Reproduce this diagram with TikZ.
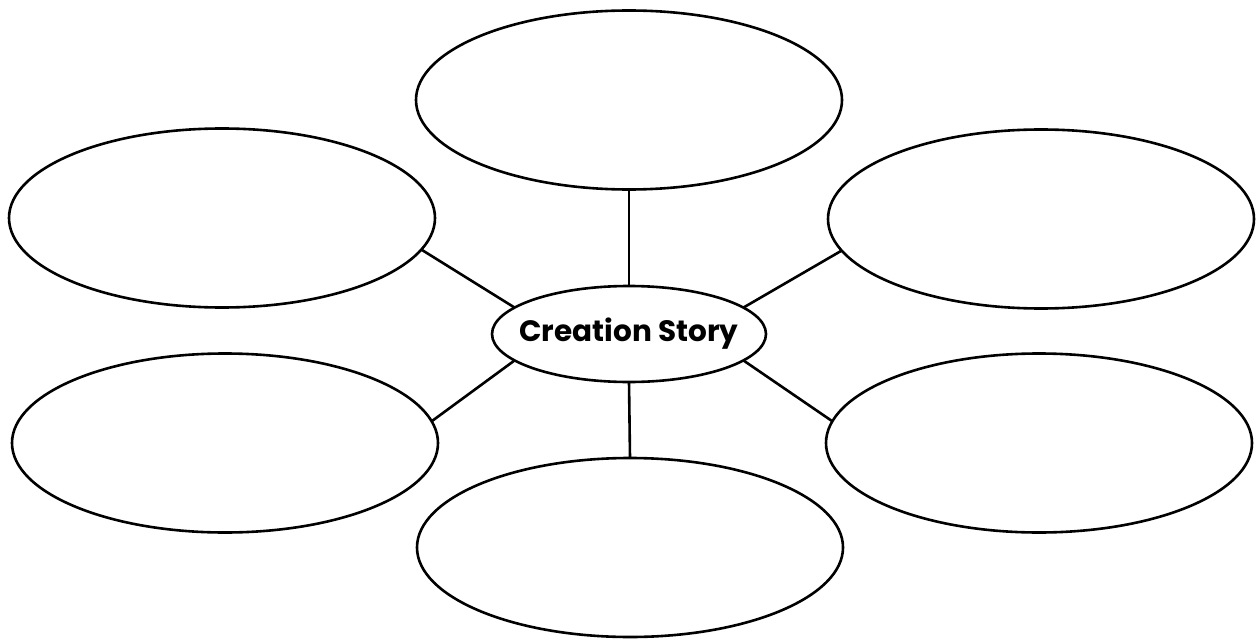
\documentclass[tikz,border=0pt]{standalone}
\usepackage{fontspec}
\setmainfont{Poppins}
\usetikzlibrary{shapes.geometric}
\tikzset{
  bub/.style={ellipse, draw=black, line width=2.6pt, minimum width=426pt, minimum height=179pt, outer sep=0pt, inner sep=0pt},
  hub/.style={ellipse, draw=black, line width=2.6pt, minimum width=274pt, minimum height=96pt, outer sep=0pt, inner sep=0pt, font=\bfseries\fontsize{29.5}{32}\selectfont},
  link/.style={line width=2.6pt}
}
\begin{document}
\begin{tikzpicture}[x=1pt,y=-1pt]
\useasboundingbox[fill=white] (0,0) rectangle (1257,639);
\node[hub] (c) at (629,334) {\makebox[0pt]{Creation Story}};
\node[bub] (t) at (629,100) {};
\node[bub] (ul) at (222,218) {};
\node[bub] (ur) at (1041,219) {};
\node[bub] (ll) at (225,443) {};
\node[bub] (lr) at (1039,443) {};
\node[bub] (b) at (630,547.5) {};
\draw[link] (c.north) -- (t.south);
\draw[link] (c.south) -- (b.north);
\draw[link] (c.167) -- (ul.-9);
\draw[link] (c.13) -- (ur.-171);
\draw[link] (c.-167) -- (ll.6);
\draw[link] (c.-13) -- (lr.174);
\end{tikzpicture}
\end{document}
